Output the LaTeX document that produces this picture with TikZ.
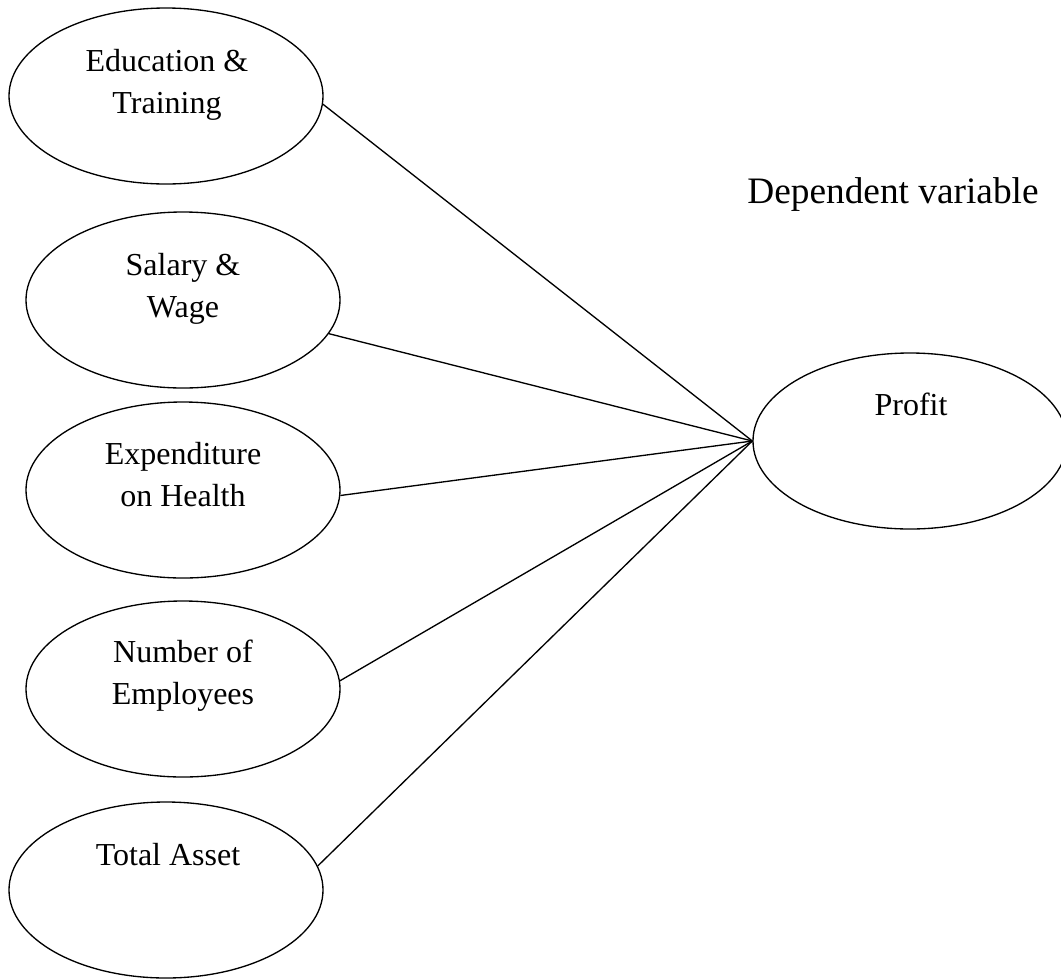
\documentclass[tikz,border=0pt]{standalone}
\usepackage{fontspec}
\setmainfont{Liberation Serif}
\usetikzlibrary{shapes.geometric}

\begin{document}
\begin{tikzpicture}[x=0.75pt,y=-0.75pt,line width=1pt,
  var node/.style={ellipse,draw,minimum width=235.5pt,minimum height=132pt,inner sep=0pt},
  var text/.style={align=center,inner sep=0pt,font=\fontsize{24}{31.5}\selectfont}]
  \useasboundingbox (0,0) rectangle (1061,979);

  \node[var node] (edu) at (166,96) {};
  \node[var node] (sal) at (183,300) {};
  \node[var node] (exp) at (183,490) {};
  \node[var node] (emp) at (183,689) {};
  \node[var node] (ast) at (166,890) {};
  \node[var node] (pro) at (910,441) {};

  \node[var text] (edu-t) at (167,84.5) {Education \&\\Training};
  \node[var text] (sal-t) at (183,288.5) {Salary \&\\Wage};
  \node[var text] (exp-t) at (183,475) {Expenditure\\on Health};
  \node[var text] (emp-t) at (183,675.5) {Number of\\Employees};
  \node[var text] (ast-t) at (168,855) {Total Asset};
  \node[var text] (pro-t) at (911,404) {Profit};
  \node[var text,font=\fontsize{28}{34}\selectfont] (dep) at (893,195) {Dependent variable};

  \path (pro.west) edge (edu.357)
                   edge (sal.347)
                   edge (exp.358)
                   edge (emp.3)
                   edge (ast.9);

\end{tikzpicture}
\end{document}
